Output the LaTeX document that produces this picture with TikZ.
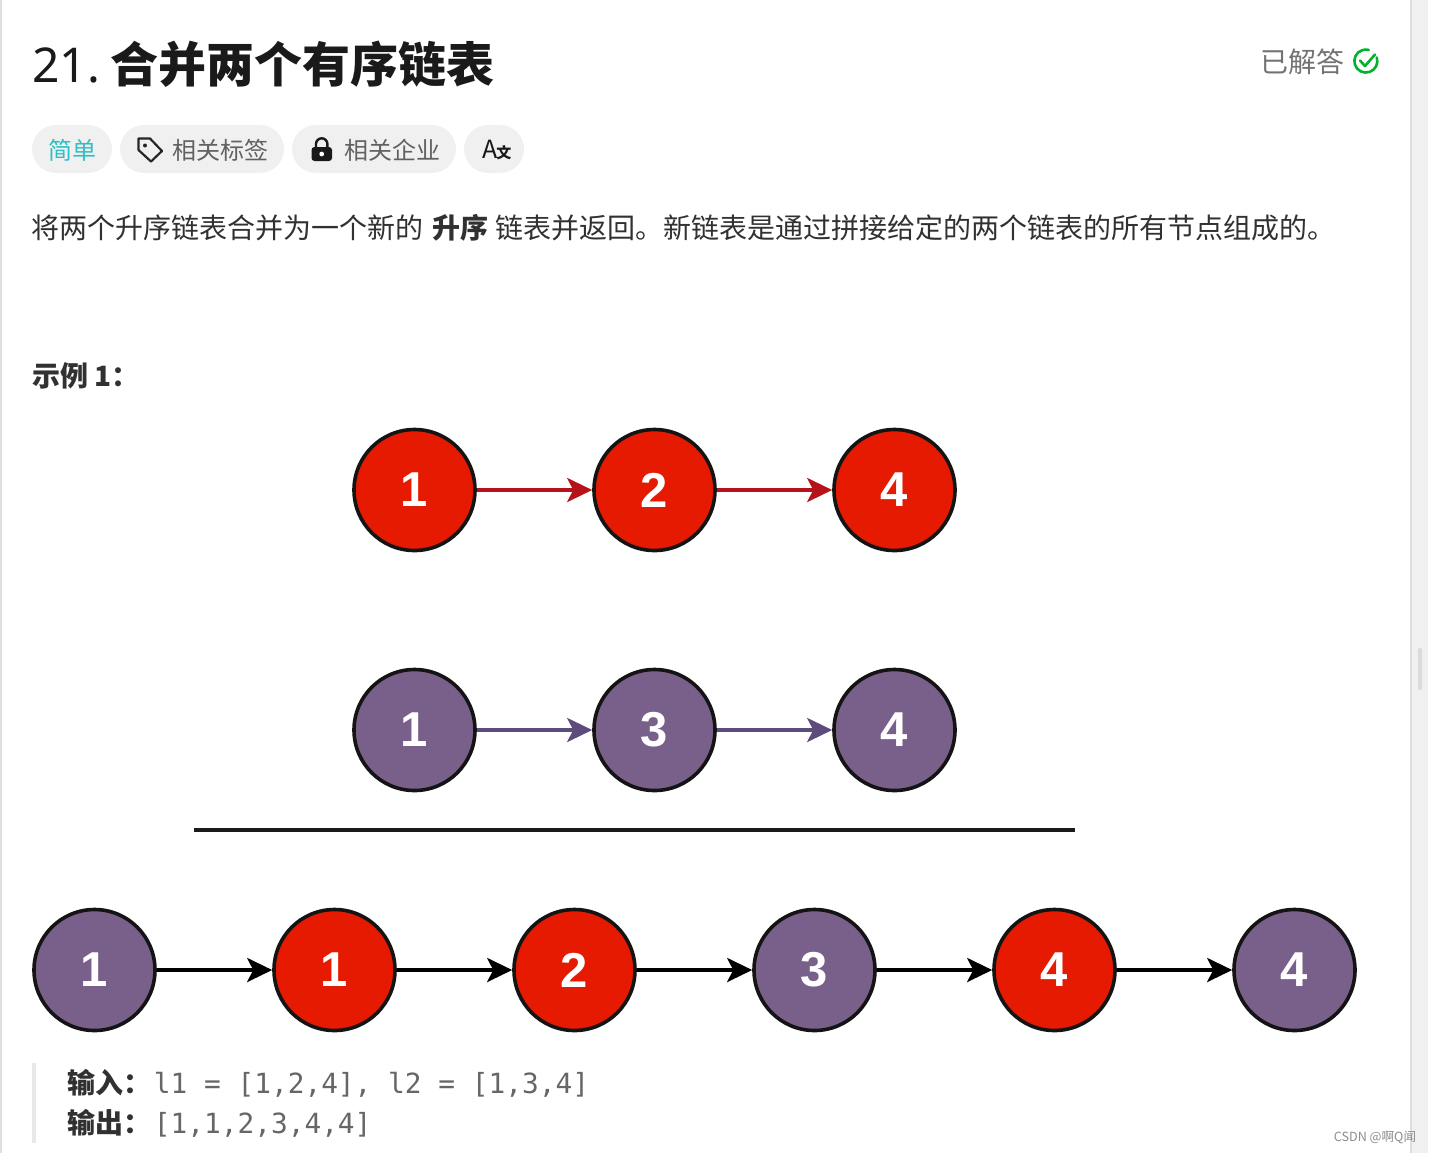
\documentclass[tikz,border=0pt]{standalone}
\usepackage{fontspec}
\setmainfont{Noto Sans CJK SC}
\newfontfamily\digitfont{Liberation Sans}
\newfontfamily\codefont{DejaVu Sans Mono}
\newfontfamily\numfont{Noto Sans}
\usetikzlibrary{arrows.meta}
\definecolor{inkblack}{HTML}{1A1A1A}
\definecolor{nodered}{HTML}{E51A00}
\definecolor{nodepurple}{HTML}{79608A}
\definecolor{linkred}{HTML}{B5121B}
\definecolor{linkpurple}{HTML}{5D4B7C}
\definecolor{tagbg}{HTML}{F0F0F0}
\definecolor{easyteal}{HTML}{2DBFC4}
\definecolor{okgreen}{HTML}{00B32A}
\tikzset{
  listnode/.style={circle,draw=black!92,line width=1.8pt,minimum size=60.5pt,inner sep=0pt,
    text=white,font=\digitfont\bfseries\fontsize{24.5}{26}\selectfont},
  rednode/.style={listnode,fill=nodered},
  purplenode/.style={listnode,fill=nodepurple},
  link/.style={line width=1.8pt,-{Stealth[length=12.5pt,width=12pt,inset=3pt]}},
  txt/.style={anchor=base west,inner sep=0pt,text=inkblack!90!white,font=\fontsize{14}{17}\selectfont},
  tagtxt/.style={txt,text=black!62,font=\fontsize{12}{15}\selectfont},
  code/.style={txt,text=black!60,font=\codefont\fontsize{13.9}{17}\selectfont},
  tagpill/.style={fill=tagbg,rounded corners=12pt}
}
\begin{document}
\begin{tikzpicture}[x=0.5pt,y=-0.5pt]
\useasboundingbox (0,0) rectangle (1431,1153);
% page edges
\fill[black!13] (0,0) rectangle (2,1153);
\fill[black!13] (1410,0) rectangle (1412,1153);
\fill[black!6] (1412,0) rectangle (1428,1153);
\fill[black!14,rounded corners=1pt] (1418,648) rectangle (1422,690);
% heading
\node[txt,text=inkblack,font=\numfont\fontsize{24}{28}\selectfont] (num) at (32,82) {21.};
\node[txt,text=inkblack,font=\bfseries\fontsize{24}{28}\selectfont] (title) at (110,82) {合并两个有序链表};
\node[txt,text=black!55] (solved) at (1260.5,72) {已解答};
\draw[okgreen,line width=1.3pt,line cap=round] (1376.8,57.5) arc[start angle=-18,end angle=285,radius=11.5];
\draw[okgreen,line width=1.3pt,line cap=round,line join=round] (1360,60.5) -- (1365,66) -- (1375,54.5);
% tags
\fill[tagpill] (32,125) rectangle (112,173);
\fill[tagpill] (120,125) rectangle (284,173);
\fill[tagpill] (292,125) rectangle (456,173);
\fill[tagpill] (464,125) rectangle (524,173);
\node[tagtxt,text=easyteal] (easy) at (48,159.5) {简单};
\draw[black!85,line width=1.1pt,line join=round] (138.5,138.5) -- (150,138.5) -- (162,151) -- (151,161.5) -- (138.5,150) -- cycle;
\fill[black!85] (145,145.5) circle[radius=2];
\node[tagtxt] (tagA) at (172,159.5) {相关标签};
\fill[black!90,rounded corners=1.5pt] (311.5,147) rectangle (332,161);
\draw[black!90,line width=1.2pt] (316,147) -- (316,144) arc[start angle=180,end angle=360,radius=5.7] -- (327.4,147);
\fill[white] (321.7,154) circle[radius=2.4];
\node[tagtxt] (tagB) at (344,159.5) {相关企业};
\node[txt,text=black!90,font=\fontsize{12.5}{14}\selectfont] (langA) at (482,158) {A};
\node[txt,text=black!90,font=\bfseries\fontsize{7.5}{10}\selectfont] (langB) at (496,158.5) {文};
% description
\node[txt] (descA) at (31.5,238) {将两个升序链表合并为一个新的};
\node[txt,font=\bfseries\fontsize{14}{17}\selectfont] (descB) at (432,238) {升序};
\node[txt] (descC) at (495,238) {链表并返回。新链表是通过拼接给定的两个链表的所有节点组成的。};
\node[txt,font=\bfseries\fontsize{14}{17}\selectfont] (example) at (32,386) {示例 1：};
% first list
\node[rednode] (a1) at (414.5,490) {1};
\node[rednode] (a2) at (654.5,490) {2};
\node[rednode] (a3) at (894.5,490) {4};
\draw[link,linkred] (a1) -- (a2);
\draw[link,linkred] (a2) -- (a3);
% second list
\node[purplenode] (b1) at (414.5,730) {1};
\node[purplenode] (b2) at (654.5,730) {3};
\node[purplenode] (b3) at (894.5,730) {4};
\draw[link,linkpurple] (b1) -- (b2);
\draw[link,linkpurple] (b2) -- (b3);
\draw[inkblack,line width=2pt] (194,830) -- (1075,830);
% merged list
\node[purplenode] (c1) at (94.5,970) {1};
\node[rednode] (c2) at (334.5,970) {1};
\node[rednode] (c3) at (574.5,970) {2};
\node[purplenode] (c4) at (814.5,970) {3};
\node[rednode] (c5) at (1054.5,970) {4};
\node[purplenode] (c6) at (1294.5,970) {4};
\draw[link] (c1) -- (c2);
\draw[link] (c2) -- (c3);
\draw[link] (c3) -- (c4);
\draw[link] (c4) -- (c5);
\draw[link] (c5) -- (c6);
% input and output
\fill[black!9] (32,1063) rectangle (36,1143);
\node[txt,font=\bfseries\fontsize{14}{17}\selectfont] (inlabel) at (67.5,1093) {输入：};
\node[code] (inval) at (153.5,1093) {l1 = [1,2,4], l2 = [1,3,4]};
\node[txt,font=\bfseries\fontsize{14}{17}\selectfont] (outlabel) at (67.5,1133) {输出：};
\node[code] (outval) at (153.5,1133) {[1,1,2,3,4,4]};
\node[txt,text=black!45,font=\fontsize{6.3}{8}\selectfont] (mark) at (1333.5,1141) {CSDN @啊Q闻};
\end{tikzpicture}
\end{document}
